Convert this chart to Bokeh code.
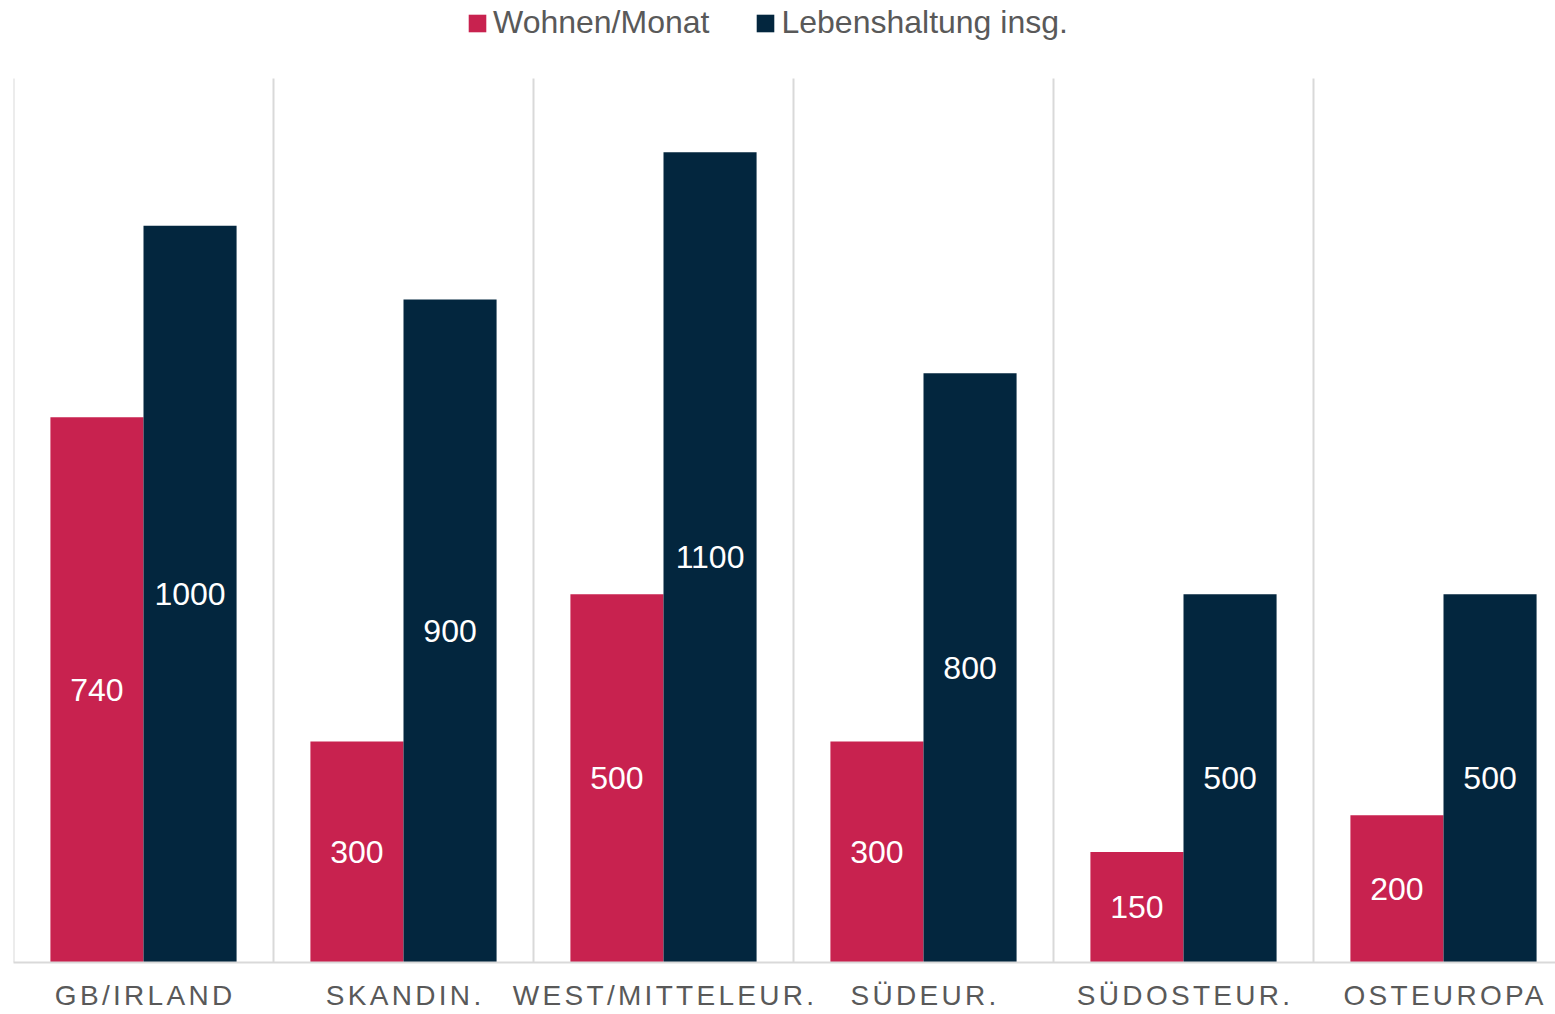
from bokeh.plotting import figure
from bokeh.models import (ColumnDataSource, FixedTicker, LabelSet, Legend, LegendItem, Range1d,
                          CustomJS)
from bokeh.core.properties import value
from bokeh.transform import dodge
from bokeh.events import DocumentReady
from bokeh.io import curdoc
from bokeh.embed import file_html
from bokeh.resources import INLINE

# ---- data ----
categories = ["GB/IRLAND", "SKANDIN.", "WEST/MITTELEUR.", "SÜDEUR.", "SÜDOSTEUR.", "OSTEUROPA"]
wohnen = [740, 300, 500, 300, 150, 200]
lebenshaltung = [1000, 900, 1100, 800, 500, 500]
series_names = ["Wohnen/Monat", "Lebenshaltung insg."]
y_max = 1200  # top of the value axis

PINK = "#C8224F"
NAVY = "#03263E"
GRAY = "#595959"
GRID = "#D9D9D9"
FONT = "Liberation Sans"

idx = [i + 0.5 for i in range(len(categories))]
src = ColumnDataSource(dict(
    x=idx,
    wohnen=wohnen,
    leben=lebenshaltung,
    wohnen_mid=[v / 2 for v in wohnen],
    leben_mid=[v / 2 for v in lebenshaltung],
    wohnen_txt=[str(v) for v in wohnen],
    leben_txt=[str(v) for v in lebenshaltung],
))

# layout (pixels)
W, H = 1555, 1013
BOTTOM, LEFT = 51, 13
FRAME_BOTTOM = H - BOTTOM      # pixel row of the baseline
PLOT_TOP = 78                  # pixel row where y_max sits
frame_w = W - LEFT
y_end = y_max * FRAME_BOTTOM / (FRAME_BOTTOM - PLOT_TOP)

p = figure(width=W, height=H, output_backend="svg", toolbar_location=None,
           x_range=Range1d(0, frame_w / 260.0), y_range=Range1d(0, y_end),
           min_border_left=LEFT, min_border_right=0, min_border_top=0, min_border_bottom=BOTTOM)
p.outline_line_color = None
p.background_fill_color = "white"
p.border_fill_color = "white"

# category separators (vertical grid lines up to the top of the value axis)
bounds = list(range(len(categories) + 1))
p.segment(x0=bounds, y0=[0] * len(bounds), x1=bounds, y1=[y_max] * len(bounds),
          line_color=GRID, line_width=2)

bw = 0.358
r1 = p.vbar(x=dodge("x", -bw / 2, range=p.x_range), top="wohnen", width=bw, source=src,
            fill_color=PINK, line_color=None)
r2 = p.vbar(x=dodge("x", bw / 2, range=p.x_range), top="leben", width=bw, source=src,
            fill_color=NAVY, line_color=None)

for off, ycol, tcol in [(-bw / 2, "wohnen_mid", "wohnen_txt"), (bw / 2, "leben_mid", "leben_txt")]:
    ls = LabelSet(x=dodge("x", off, range=p.x_range), y=ycol, text=tcol, source=src,
                  text_align="center", text_baseline="middle", text_color="white",
                  text_font=value(FONT), text_font_size="32px")
    p.add_layout(ls)

# axes
p.yaxis.visible = False
p.ygrid.grid_line_color = None
p.xgrid.grid_line_color = None
p.xaxis.ticker = FixedTicker(ticks=idx)
p.xaxis.major_label_overrides = {x: c for x, c in zip(idx, categories)}
p.xaxis.axis_line_color = GRID
p.xaxis.axis_line_width = 2
p.xaxis.major_tick_line_color = None
p.xaxis.minor_tick_line_color = None
p.xaxis.major_label_text_color = GRAY
p.xaxis.major_label_text_font = FONT
p.xaxis.major_label_text_font_size = "28px"
p.xaxis.major_label_standoff = 11

legend = Legend(items=[LegendItem(label=series_names[0], renderers=[r1]),
                       LegendItem(label=series_names[1], renderers=[r2])],
                orientation="horizontal", location=(453, FRAME_BOTTOM - 41),
                glyph_width=22, glyph_height=22, label_standoff=5, spacing=45,
                padding=0, margin=0, border_line_color=None, background_fill_alpha=0,
                label_text_font=FONT, label_text_font_size="32px", label_text_color=GRAY)
p.add_layout(legend, "center")

# letter spacing for the category labels (as in the reference), kept centred
spacing_js = CustomJS(code="""
const s = 3.3;
function walk(root){
  root.querySelectorAll('*').forEach(el => { if (el.shadowRoot) walk(el.shadowRoot); });
  root.querySelectorAll('text').forEach(t => {
    if (t.getAttribute('font-size') === '28px' && !t.hasAttribute('data-ls')) {
      t.setAttribute('data-ls', '1');
      t.setAttribute('letter-spacing', s + 'px');
      const n = t.textContent.length;
      const a = t.getAttribute('text-anchor');
      if (a !== 'middle') {
        const x = parseFloat(t.getAttribute('x'));
        if (!isNaN(x)) t.setAttribute('x', x - (n - 1) * s / 2);
      }
    }
  });
}
function run(){ walk(document); }
run(); setTimeout(run, 50); setTimeout(run, 300); setTimeout(run, 1000); setTimeout(run, 2500);
""")
doc = curdoc()
doc.add_root(p)
doc.js_on_event(DocumentReady, spacing_js)

open("out.html", "w").write(file_html(p, INLINE))
